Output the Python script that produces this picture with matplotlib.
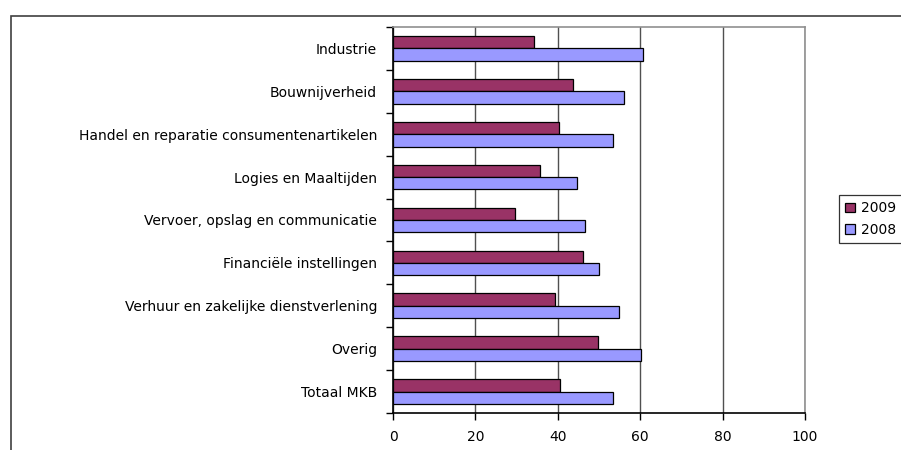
import matplotlib
matplotlib.use("Agg")
import matplotlib.pyplot as plt
from matplotlib.patches import Rectangle
import numpy as np

categories = ["Industrie", "Bouwnijverheid", "Handel en reparatie consumentenartikelen",
              "Logies en Maaltijden", "Vervoer, opslag en communicatie",
              "Financiële instellingen", "Verhuur en zakelijke dienstverlening",
              "Overig", "Totaal MKB"]
values_2009 = [34.2, 43.7, 40.4, 35.8, 29.5, 46.1, 39.4, 49.8, 40.5]
values_2008 = [60.7, 56.0, 53.4, 44.7, 46.6, 50.1, 54.9, 60.3, 53.4]
series_labels = ["2009", "2008"]
xticks = [0, 20, 40, 60, 80, 100]

plt.rcParams['font.family'] = ['DejaVu Sans']
fig = plt.figure(figsize=(9.01, 4.5), dpi=100)
W, H = 901, 450
ax = fig.add_axes([393 / W, 1 - 413 / H, (805 - 393) / W, (413 - 27) / H])

# outer chart frame
fig.patches.append(Rectangle((11 / W, -0.2), 2.0, 1.2 - 16 / H, transform=fig.transFigure,
                             fill=False, edgecolor='#404040', linewidth=1.2, clip_on=False))

n = len(categories)
pos = np.arange(n)
bh = 0.287
c09 = '#993366'
c08 = '#9999ff'
ax.barh(pos - bh / 2, values_2009, height=bh, color=c09, edgecolor='black', linewidth=0.9,
        label=series_labels[0], zorder=3)
ax.barh(pos + bh / 2, values_2008, height=bh, color=c08, edgecolor='black', linewidth=0.9,
        label=series_labels[1], zorder=3)

ax.set_xlim(0, 100)
ax.set_ylim(n - 0.5, -0.5)
ax.set_xticks(xticks)
ax.set_xticklabels([str(t) for t in xticks])
ax.xaxis.grid(True, color='#505050', linewidth=1.0, zorder=0)
ax.set_axisbelow(True)

fs = 10
ax.set_yticks(np.arange(-0.5, n, 1.0))
ax.set_yticklabels([])
ax.set_yticks(pos, minor=True)
ax.set_yticklabels(categories, minor=True)
ax.tick_params(axis='y', which='major', length=5, width=1, direction='out', color='black')
ax.tick_params(axis='y', which='minor', length=0, pad=11.5, labelsize=fs)
ax.tick_params(axis='x', length=5, width=1, direction='out', pad=7.5, labelsize=fs)

for s in ['top', 'right']:
    ax.spines[s].set_color('#909090')
    ax.spines[s].set_linewidth(1.2)
for s in ['left', 'bottom']:
    ax.spines[s].set_color('black')
    ax.spines[s].set_linewidth(1.2)

leg = fig.legend(loc='upper left', bbox_to_anchor=(839 / W, 1 - 195 / H), frameon=True,
                 fancybox=False, edgecolor='black', fontsize=fs, handlelength=0.7,
                 handleheight=0.7, handletextpad=0.4, borderpad=0.45, labelspacing=0.55,
                 borderaxespad=0)
leg.get_frame().set_linewidth(0.9)

fig.savefig("out.png", dpi=100)
